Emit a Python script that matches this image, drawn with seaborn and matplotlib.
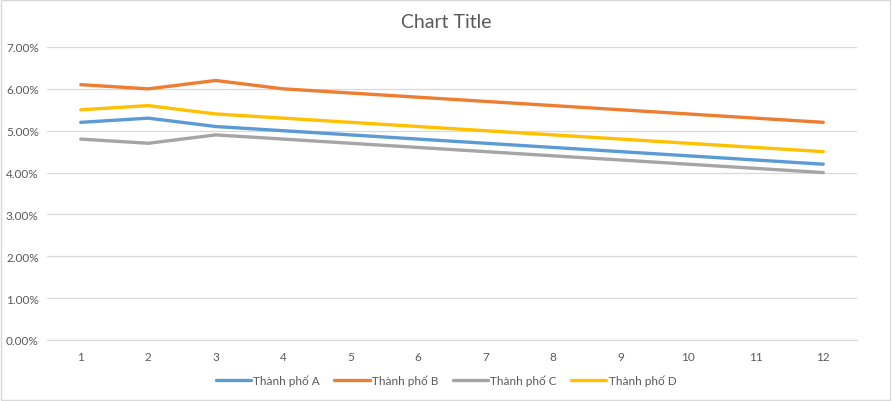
import matplotlib
matplotlib.use("Agg")
import matplotlib.pyplot as plt
import matplotlib.ticker as mticker
import seaborn as sns
import pandas as pd

months = [1, 2, 3, 4, 5, 6, 7, 8, 9, 10, 11, 12]
city_a = [5.2, 5.3, 5.1, 5.0, 4.9, 4.8, 4.7, 4.6, 4.5, 4.4, 4.3, 4.2]
city_b = [6.1, 6.0, 6.2, 6.0, 5.9, 5.8, 5.7, 5.6, 5.5, 5.4, 5.3, 5.2]
city_c = [4.8, 4.7, 4.9, 4.8, 4.7, 4.6, 4.5, 4.4, 4.3, 4.2, 4.1, 4.0]
city_d = [5.5, 5.6, 5.4, 5.3, 5.2, 5.1, 5.0, 4.9, 4.8, 4.7, 4.6, 4.5]
series_names = ["Thành phố A", "Thành phố B", "Thành phố C", "Thành phố D"]
colors = ["#5B9BD5", "#ED7D31", "#A5A5A5", "#FFC000"]
title = "Chart Title"

rows = []
for name, vals in zip(series_names, [city_a, city_b, city_c, city_d]):
    for m, v in zip(months, vals):
        rows.append({"month": m, "value": v, "series": name})
df = pd.DataFrame(rows)

sns.set_theme(style="white")
plt.rcParams["font.family"] = ["Lato", "DejaVu Sans"]

fig = plt.figure(figsize=(8.92, 4.02), dpi=100)
ax = fig.add_axes([47 / 892, 1 - 341 / 402, 810 / 892, 293 / 402])

sns.lineplot(data=df, x="month", y="value", hue="series",
             palette=colors, hue_order=series_names, linewidth=2.4,
             ax=ax, legend=True)

ax.set_xlim(0.5, 12.5)
ax.set_ylim(0, 7)
ax.set_xticks(months)
ax.set_yticks([0, 1, 2, 3, 4, 5, 6, 7])
ax.yaxis.set_major_formatter(mticker.FuncFormatter(lambda v, p: f"{v:.2f}%"))
ax.grid(axis="y", color="#D9D9D9", linewidth=0.9)
ax.set_axisbelow(True)
for s in ["top", "right", "left"]:
    ax.spines[s].set_visible(False)
ax.spines["bottom"].set_color("#D9D9D9")
ax.spines["bottom"].set_linewidth(0.9)
ax.tick_params(axis="both", length=0, labelsize=8.5, labelcolor="#595959", pad=8)
ax.tick_params(axis="y", pad=6)
ax.set_xlabel("")
ax.set_ylabel("")

handles, labels = ax.get_legend_handles_labels()
ax.legend(handles, labels, loc="center", bbox_to_anchor=(0.5, (402 - 381) / 402),
          bbox_transform=fig.transFigure, ncol=4, frameon=False,
          fontsize=8.5, labelcolor="#595959", handlelength=3.0,
          handletextpad=0.2, columnspacing=1.2)

fig.text(0.5, 1 - 22 / 402, title, ha="center", va="center",
         fontsize=14, color="#595959")

border = plt.Rectangle((0.001, 0.002), 0.997, 0.995, transform=fig.transFigure,
                       fill=False, edgecolor="#D9D9D9", linewidth=1)
fig.patches.append(border)

fig.savefig("out.png", dpi=100, facecolor="white")
